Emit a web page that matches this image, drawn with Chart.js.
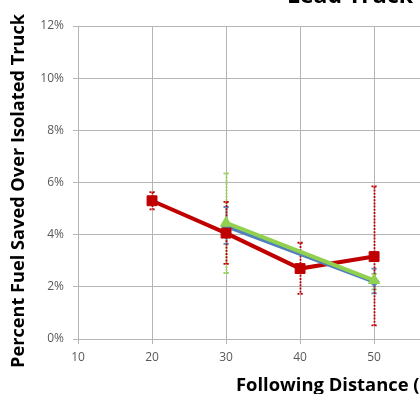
<!DOCTYPE html>
<html>
<head>
<meta charset="utf-8">
<script src="https://cdn.jsdelivr.net/npm/chart.js@4/dist/chart.umd.min.js"></script>
<style>
html,body{margin:0;padding:0;background:#fff;overflow:hidden;}
#wrap{position:relative;width:420px;height:394px;overflow:hidden;}
</style>
</head>
<body>
<div id="wrap"><canvas id="c" width="420" height="394"></canvas></div>
<script>
// ---- data ----
const chartTitle = "Lead Truck";
const xAxisTitle = "Following Distance (";
const yAxisTitle = "Percent Fuel Saved Over Isolated Truck";
const yTicks = [0, 2, 4, 6, 8, 10, 12];
const xTicks = [10, 20, 30, 40, 50];

const redX = [20, 30, 40, 50];
const redY = [5.3, 4.06, 2.7, 3.16];
const redHigh = [5.63, 5.26, 3.69, 5.85];
const redLow = [4.97, 2.88, 1.73, 0.52];

const blueX = [30, 50];
const blueY = [4.33, 2.2];
const blueHigh = [5.06, 2.7];
const blueLow = [3.65, 1.75];

const greenX = [30, 50];
const greenY = [4.45, 2.25];
const greenHigh = [6.35, 2.5];
const greenLow = [2.53, 1.9];

const RED = '#C00000', BLUE = '#4F81BD', GREEN = '#92D050';
const FONT = '"Open Sans", "Liberation Sans", sans-serif';

function pts(xs, ys) { return xs.map((x, i) => ({ x: x, y: ys[i] })); }

const errorSets = [
  { xs: greenX, hi: greenHigh, lo: greenLow, color: GREEN },
  { xs: blueX, hi: blueHigh, lo: blueLow, color: BLUE },
  { xs: redX, hi: redHigh, lo: redLow, color: RED }
];

const errorBars = {
  id: 'errorBars',
  beforeDatasetsDraw(chart) {
    const ctx = chart.ctx, xs = chart.scales.x, ys = chart.scales.y;
    ctx.save();
    errorSets.forEach(s => {
      ctx.strokeStyle = s.color;
      ctx.lineWidth = 1.8;
      s.xs.forEach((xv, i) => {
        const px = Math.round(xs.getPixelForValue(xv)) + 0.5;
        const pt = ys.getPixelForValue(s.hi[i]);
        const pb = ys.getPixelForValue(s.lo[i]);
        ctx.setLineDash([2, 1.2]);
        ctx.beginPath(); ctx.moveTo(px, pt); ctx.lineTo(px, pb); ctx.stroke();
        ctx.beginPath();
        ctx.moveTo(px - 3, pt); ctx.lineTo(px + 3, pt);
        ctx.moveTo(px - 3, pb); ctx.lineTo(px + 3, pb);
        ctx.stroke();
        ctx.setLineDash([]);
      });
    });
    ctx.restore();
  }
};

const texts = {
  id: 'texts',
  afterDraw(chart) {
    const ctx = chart.ctx;
    ctx.save();
    ctx.fillStyle = '#000';
    ctx.textBaseline = 'alphabetic';
    ctx.textAlign = 'left';
    ctx.font = 'bold 23px ' + FONT;
    ctx.fillText(chartTitle, 287, 3);
    ctx.font = 'bold 18.4px ' + FONT;
    ctx.fillText(xAxisTitle, 236, 391);
    ctx.translate(24, 191);
    ctx.rotate(-Math.PI / 2);
    ctx.textAlign = 'center';
    ctx.font = 'bold 18.2px ' + FONT;
    ctx.fillText(yAxisTitle, 0, 0);
    ctx.restore();
  }
};

new Chart(document.getElementById('c'), {
  type: 'line',
  data: {
    datasets: [
      { data: pts(redX, redY), borderColor: RED, borderWidth: 4, pointRadius: 0, order: 6 },
      { data: pts(blueX, blueY), borderColor: BLUE, borderWidth: 4, pointRadius: 0, order: 5 },
      { data: pts(greenX, greenY), borderColor: GREEN, borderWidth: 4, pointRadius: 0, order: 4 },
      { data: pts(blueX, blueY), showLine: false, pointStyle: 'rectRot', pointRadius: 5, backgroundColor: BLUE, borderColor: BLUE, borderWidth: 1, order: 3 },
      { data: pts(greenX, greenY), showLine: false, pointStyle: 'triangle', pointRadius: 6.5, backgroundColor: GREEN, borderColor: GREEN, borderWidth: 1, order: 2 },
      { data: pts(redX, redY), showLine: false, pointStyle: 'rect', pointRadius: 7, backgroundColor: RED, borderColor: RED, borderWidth: 1, order: 1 }
    ]
  },
  options: {
    responsive: false,
    animation: false,
    events: [],
    layout: { autoPadding: false, padding: { top: 26, right: 0, left: 0, bottom: 0 } },
    plugins: { legend: { display: false }, title: { display: false }, tooltip: { enabled: false } },
    elements: { line: { tension: 0 } },
    scales: {
      x: {
        type: 'linear', min: 10, max: 56.2,
        afterFit: s => { s.height = 55; s.paddingRight = 0; s.paddingLeft = 0; },
        afterBuildTicks: s => { s.ticks = xTicks.map(v => ({ value: v })); },
        ticks: { includeBounds: false, stepSize: 10, padding: 6, color: '#595959', font: { family: FONT, size: 12 } },
        grid: { color: '#B5B5B5', lineWidth: 1, drawTicks: true, tickLength: 5, tickColor: '#B5B5B5' },
        border: { color: '#B5B5B5', width: 1 }
      },
      y: {
        min: 0, max: 12,
        afterFit: s => { s.width = 78; s.paddingTop = 0; s.paddingBottom = 0; },
        afterBuildTicks: s => { s.ticks = yTicks.map(v => ({ value: v })); },
        ticks: { stepSize: 2, padding: 9, color: '#595959', font: { family: FONT, size: 12 }, callback: v => v + '%' },
        grid: { color: '#B5B5B5', lineWidth: 1, drawTicks: true, tickLength: 5, tickColor: '#B5B5B5' },
        border: { color: '#B5B5B5', width: 1 }
      }
    }
  },
  plugins: [errorBars, texts]
});
</script>
</body>
</html>
